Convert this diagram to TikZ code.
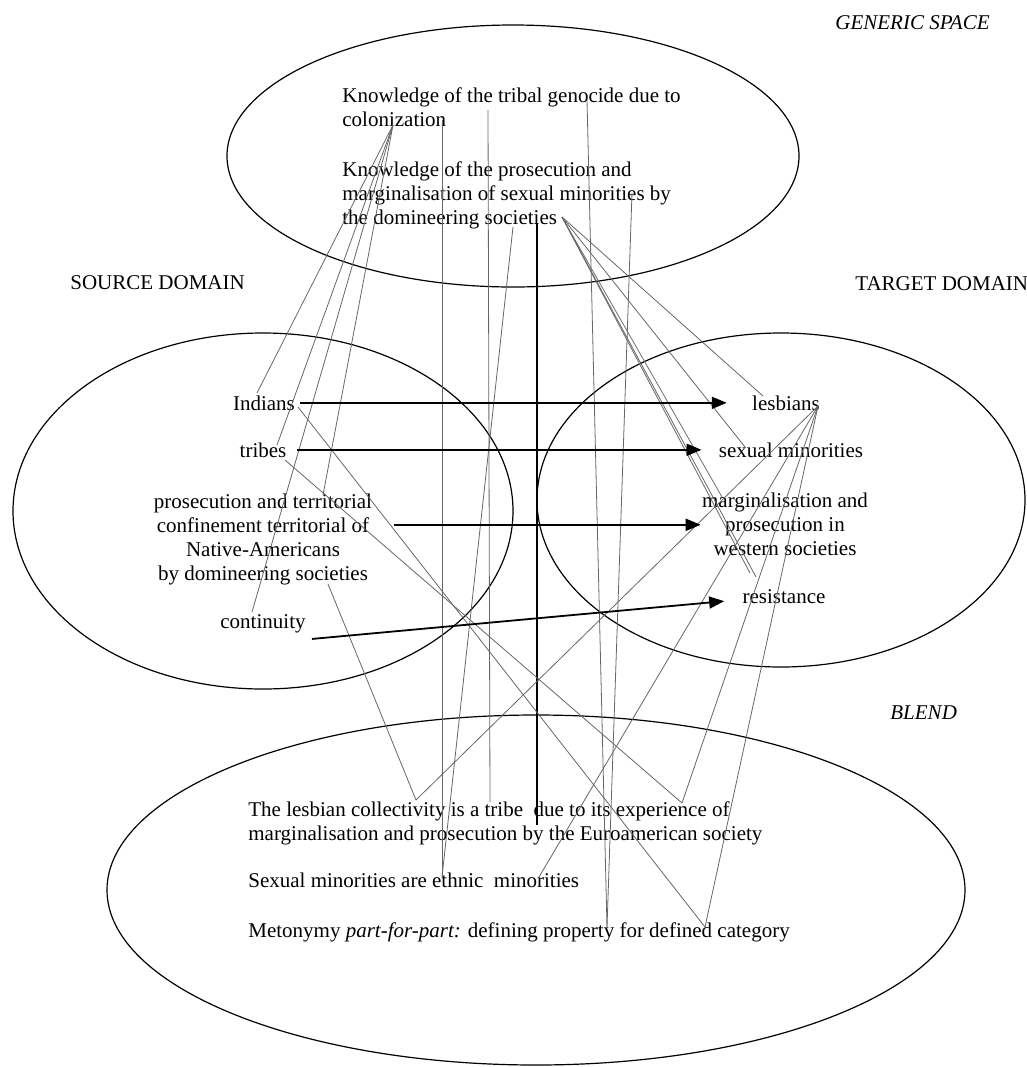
\documentclass[tikz,border=0pt]{standalone}
\usepackage{fontspec}
\setmainfont{Liberation Serif}
\usetikzlibrary{arrows.meta,calc}
\begin{document}
\begin{tikzpicture}[x=0.5pt,y=-0.5pt,
  ell/.style={draw=black, line width=0.6pt},
  thinln/.style={draw=black!60, line width=0.4pt},
  arr/.style={draw=black, line width=0.9pt, -{Triangle[length=7.5pt,width=6pt]}},
  vline/.style={draw=black, line width=0.9pt},
  lbl/.style={inner sep=0pt, font=\fontsize{10.5}{12}\selectfont}]
\useasboundingbox (0,0) rectangle (1027,1067);

% ellipses
\draw[ell] (513,156) ellipse [x radius=286, y radius=131];
\draw[ell] (263,511) ellipse [x radius=250, y radius=178];
\draw[ell] (781,500) ellipse [x radius=244, y radius=167];
\draw[ell] (536,890) ellipse [x radius=429, y radius=175];

% titles
\node[lbl, anchor=base west] (gtitle) at (835,29) {\textit{GENERIC SPACE}};
\node[lbl, anchor=base west] (stitle) at (70,289) {SOURCE DOMAIN};
\node[lbl, anchor=base west] (ttitle) at (855,290) {TARGET DOMAIN};
\node[lbl, anchor=base west] (btitle) at (890,719) {\textit{BLEND}};

% generic space
\node[lbl, anchor=north west, align=left] (g1) at (342,87) {Knowledge of the tribal genocide due to\\colonization};
\node[lbl, anchor=north west, align=left] (g2) at (342,161) {Knowledge of the prosecution and\\marginalisation of sexual minorities by\\the domineering societies};

% source domain
\node[lbl, anchor=base] (ind) at (264,410) {Indians};
\node[lbl, anchor=base] (trb) at (263,457) {tribes};
\node[lbl, anchor=north, align=center] (pro) at (263,494) {prosecution and territorial\\confinement territorial of\\Native-Americans\\by domineering societies};
\node[lbl, anchor=base] (con) at (263,628) {continuity};

% target domain
\node[lbl, anchor=base] (les) at (786,410) {lesbians};
\node[lbl, anchor=base] (sex) at (791,457) {sexual minorities};
\node[lbl, anchor=north, align=center] (mar) at (785,493) {marginalisation and\\prosecution in\\western societies};
\node[lbl, anchor=base] (res) at (784,603) {resistance};

% blend
\node[lbl, anchor=north west, align=left] (b1) at (248,801) {The lesbian collectivity is a tribe\ \ due to its experience of\\marginalisation and prosecution by the Euroamerican society};
\node[lbl, anchor=base west] (b2) at (248,887) {Sexual minorities are ethnic\ \ minorities};
\node[lbl, anchor=base west] (b3) at (248,937) {Metonymy \textit{part-for-part:} defining property for defined category};

% anchor points
\coordinate (gColon) at (393,125);
\coordinate (gColonB) at (442,120);
\coordinate (gTribal) at (488,110);
\coordinate (gGeno) at (587,100);
\coordinate (gMinor) at (632,193);
\coordinate (gSocC) at (513,227);
\coordinate (gSocT) at (537,223);
\coordinate (gSocR) at (562,217);
\coordinate (sInd) at (257,393);
\coordinate (sIndR) at (298,407);
\coordinate (sTrb) at (277,445);
\coordinate (sTrbR) at (285,460);
\coordinate (sPro) at (323,495);
\coordinate (sProB) at (328,584);
\coordinate (sCon) at (252,612);
\coordinate (tLesL) at (763,396);
\coordinate (tLesR) at (818,406);
\coordinate (tSex) at (745,447);
\coordinate (tMar) at (722,497);
\coordinate (tMarB) at (756,577);
\coordinate (tRes) at (750,573);
\coordinate (bColl) at (416,800);
\coordinate (bTribe) at (490,802);
\coordinate (bExp) at (682,803);
\coordinate (bBy) at (537,825);
\coordinate (bEth) at (442,877);
\coordinate (bMin) at (539,877);
\coordinate (bProp) at (607,927);
\coordinate (bDef) at (705,927);

% generic -> source
\draw[thinln] (gColon) -- (sInd);
\draw[thinln] (gColon) -- (sTrb);
\draw[thinln] (gColon) -- (sPro);
\draw[thinln] (gColon) -- (sCon);
% generic -> target
\draw[thinln] (gSocR) -- (tLesL);
\draw[thinln] (gSocR) -- (tSex);
\draw[thinln] (gSocR) -- (tMar);
\draw[thinln] (gSocR) -- (tMarB);
\draw[thinln] (gSocR) -- (tRes);
% generic -> blend
\draw[thinln] (gColonB) -- (bEth);
\draw[thinln] (gSocC) -- (bEth);
\draw[thinln] (gTribal) -- (bTribe);
\draw[thinln] (gGeno) -- (bProp);
\draw[thinln] (gMinor) -- (bProp);
\draw[vline] (gSocT) -- (bBy);
% source -> blend
\draw[thinln] (sIndR) -- (bDef);
\draw[thinln] (sTrbR) -- (bExp);
\draw[thinln] (sProB) -- (bColl);
% target -> blend
\draw[thinln] (tLesR) -- (bColl);
\draw[thinln] (tLesR) -- (bExp);
\draw[thinln] (tLesR) -- (bMin);
\draw[thinln] (tLesR) -- (bDef);

% cross-space mapping arrows
\coordinate (proA) at ([xshift=11pt]pro.east);
\draw[arr] ([xshift=2.5pt]ind.east) -- ([xshift=-12.5pt]les.west);
\draw[arr] ([xshift=5pt]trb.east) -- ([xshift=-8.5pt]sex.west);
\draw[arr] (proA |- mar.west) -- ([xshift=-0.5pt]mar.west);
\draw[arr] ([xshift=3pt,yshift=-3pt]con.south east) -- ([xshift=-9pt,yshift=-2.5pt]res.west);
\end{tikzpicture}
\end{document}
